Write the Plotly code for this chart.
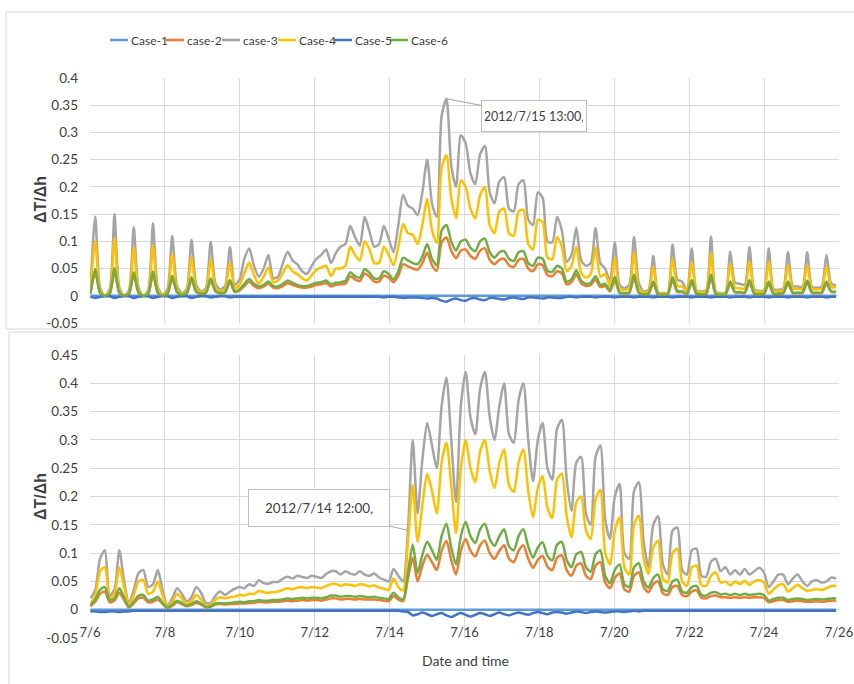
import numpy as np
import pandas as pd
import plotly.graph_objects as go

W, H = 854, 684
FONT = "Lato, Roboto, Liberation Sans, sans-serif"

# time axis: samples every 185 minutes from 7/6 00:15 (156 samples)
time = pd.date_range("2012-07-06 00:15", periods=156, freq="185min")

series_names = ["Case-1", "case-2", "case-3", "Case-4", "Case-5", "Case-6"]
series_colors = ["#5B9BD5", "#ED7D31", "#A5A5A5", "#FFC000", "#4472C4", "#70AD47"]

x_tick_dates = ["2012-07-06", "2012-07-08", "2012-07-10", "2012-07-12", "2012-07-14", "2012-07-16",
                "2012-07-18", "2012-07-20", "2012-07-22", "2012-07-24", "2012-07-26"]
x_tick_labels = ["7/6", "7/8", "7/10", "7/12", "7/14", "7/16", "7/18", "7/20", "7/22", "7/24", "7/26"]
top_y_ticks = [-0.05, 0, 0.05, 0.1, 0.15, 0.2, 0.25, 0.3, 0.35, 0.4]
top_y_labels = ["-0.05", "0", "0.05", "0.1", "0.15", "0.2", "0.25", "0.3", "0.35", "0.4"]
bot_y_ticks = [-0.05, 0, 0.05, 0.1, 0.15, 0.2, 0.25, 0.3, 0.35, 0.4, 0.45]
bot_y_labels = ["-0.05", "0", "0.05", "0.1", "0.15", "0.2", "0.25", "0.3", "0.35", "0.4", "0.45"]

# ---------------- upper chart ----------------
top_case1 = [
    0, 0, 0, 0, 0, 0, 0, 0, 0, 0, 0, 0,
    0, 0, 0, 0, 0, 0, 0, 0, 0, 0, 0, 0,
    0, 0, 0, 0, 0, 0, 0, 0, 0, 0, 0, 0,
    0, 0, 0, 0, 0, 0, 0, 0, 0, 0, 0, 0,
    0, 0, 0, 0, 0, 0, 0, 0, 0, 0, 0, 0,
    0, 0, 0, 0, 0, 0, 0, 0, 0, 0, 0, 0,
    0, 0, 0, 0, 0, 0, 0, 0, 0, 0, 0, 0,
    0, 0, 0, 0, 0, 0, 0, 0, 0, 0, 0, 0,
    0, 0, 0, 0, 0, 0, 0, 0, 0, 0, 0, 0,
    0, 0, 0, 0, 0, 0, 0, 0, 0, 0, 0, 0,
    0, 0, 0, 0, 0, 0, 0, 0, 0, 0, 0, 0,
    0, 0, 0, 0, 0, 0, 0, 0, 0, 0, 0, 0,
    0, 0, 0, 0, 0, 0, 0, 0, 0, 0, 0, 0,
]
top_case2 = [
    0.003, 0.043, 0.005, 0.0, 0.003, 0.045, 0.005, 0.0, 0.003, 0.038, 0.005, 0.0,
    0.003, 0.039, 0.005, 0.0, 0.003, 0.032, 0.006, 0.002, 0.004, 0.029, 0.007, 0.003,
    0.005, 0.027, 0.008, 0.004, 0.006, 0.025, 0.007, 0.01, 0.018, 0.026, 0.018, 0.014,
    0.017, 0.022, 0.015, 0.014, 0.018, 0.023, 0.02, 0.017, 0.015, 0.015, 0.017, 0.02,
    0.021, 0.023, 0.017, 0.02, 0.021, 0.022, 0.036, 0.03, 0.027, 0.041, 0.035, 0.026,
    0.026, 0.037, 0.033, 0.025, 0.037, 0.058, 0.054, 0.05, 0.048, 0.06, 0.079, 0.056,
    0.046, 0.098, 0.107, 0.083, 0.069, 0.083, 0.085, 0.073, 0.068, 0.083, 0.087, 0.066,
    0.058, 0.066, 0.068, 0.056, 0.053, 0.066, 0.068, 0.05, 0.045, 0.058, 0.056, 0.038,
    0.036, 0.045, 0.041, 0.021, 0.025, 0.039, 0.023, 0.018, 0.02, 0.03, 0.016, 0.018,
    0.008, 0.029, 0.005, 0.004, 0.005, 0.033, 0.005, 0.002, 0.003, 0.022, 0.002, 0.002,
    0.002, 0.029, 0.007, 0.007, 0.003, 0.024, 0.003, 0.002, 0.003, 0.033, 0.002, 0.002,
    0.002, 0.022, 0.006, 0.006, 0.005, 0.024, 0.003, 0.002, 0.003, 0.022, 0.003, 0.003,
    0.004, 0.022, 0.005, 0.005, 0.005, 0.024, 0.005, 0.005, 0.005, 0.022, 0.007, 0.007,
]
top_case3 = [
    0.012, 0.145, 0.015, 0.0, 0.012, 0.15, 0.015, 0.0, 0.01, 0.126, 0.015, 0.0,
    0.01, 0.133, 0.016, 0.002, 0.012, 0.11, 0.018, 0.005, 0.012, 0.103, 0.02, 0.008,
    0.014, 0.099, 0.022, 0.012, 0.018, 0.089, 0.02, 0.03, 0.068, 0.087, 0.055, 0.035,
    0.05, 0.075, 0.032, 0.035, 0.06, 0.081, 0.065, 0.058, 0.045, 0.04, 0.055, 0.068,
    0.075, 0.085, 0.06, 0.078, 0.09, 0.095, 0.128, 0.108, 0.092, 0.145, 0.118, 0.09,
    0.095, 0.128, 0.105, 0.08, 0.13, 0.185, 0.165, 0.16, 0.148, 0.19, 0.25, 0.17,
    0.145, 0.33, 0.362, 0.24, 0.2, 0.295, 0.28, 0.225, 0.205, 0.26, 0.275, 0.19,
    0.17, 0.21, 0.218, 0.16, 0.155, 0.205, 0.212, 0.14, 0.13, 0.19, 0.18, 0.1,
    0.098, 0.145, 0.12, 0.062, 0.075, 0.125, 0.065, 0.055, 0.06, 0.124, 0.06, 0.05,
    0.027, 0.098, 0.02, 0.014, 0.02, 0.108, 0.023, 0.008, 0.011, 0.073, 0.006, 0.005,
    0.006, 0.094, 0.03, 0.026, 0.01, 0.087, 0.01, 0.008, 0.01, 0.109, 0.008, 0.005,
    0.006, 0.081, 0.024, 0.022, 0.02, 0.089, 0.012, 0.009, 0.01, 0.087, 0.012, 0.011,
    0.013, 0.08, 0.018, 0.017, 0.016, 0.08, 0.016, 0.015, 0.017, 0.075, 0.022, 0.02,
]
top_case4 = [
    0.008, 0.101, 0.01, 0.0, 0.008, 0.106, 0.01, 0.0, 0.007, 0.089, 0.01, 0.0,
    0.007, 0.093, 0.011, 0.001, 0.008, 0.077, 0.012, 0.003, 0.008, 0.071, 0.014, 0.006,
    0.01, 0.067, 0.015, 0.008, 0.013, 0.061, 0.014, 0.02, 0.042, 0.061, 0.038, 0.022,
    0.035, 0.052, 0.025, 0.028, 0.042, 0.056, 0.045, 0.04, 0.032, 0.028, 0.038, 0.048,
    0.052, 0.055, 0.036, 0.05, 0.05, 0.055, 0.09, 0.075, 0.065, 0.1, 0.085, 0.06,
    0.06, 0.09, 0.075, 0.056, 0.09, 0.132, 0.115, 0.112, 0.095, 0.13, 0.178, 0.12,
    0.097, 0.235, 0.258, 0.18, 0.143, 0.212, 0.2, 0.16, 0.142, 0.185, 0.2, 0.13,
    0.115, 0.155, 0.16, 0.115, 0.11, 0.155, 0.158, 0.095, 0.085, 0.14, 0.135, 0.07,
    0.067, 0.108, 0.09, 0.045, 0.055, 0.09, 0.042, 0.033, 0.04, 0.09, 0.035, 0.04,
    0.017, 0.071, 0.012, 0.011, 0.013, 0.08, 0.013, 0.006, 0.008, 0.054, 0.005, 0.004,
    0.005, 0.068, 0.018, 0.017, 0.008, 0.062, 0.008, 0.006, 0.008, 0.078, 0.006, 0.004,
    0.005, 0.059, 0.015, 0.014, 0.013, 0.064, 0.009, 0.007, 0.008, 0.063, 0.009, 0.008,
    0.01, 0.057, 0.013, 0.013, 0.012, 0.057, 0.012, 0.012, 0.013, 0.054, 0.016, 0.016,
]
top_case5 = [
    -0.002, -0.004, -0.002, -0.001, -0.001, -0.004, -0.002, -0.001, -0.001, -0.004, -0.002, -0.001,
    -0.001, -0.004, -0.002, -0.001, -0.001, -0.004, -0.002, -0.001, -0.001, -0.004, -0.002, -0.001,
    -0.001, -0.003, -0.002, -0.001, -0.001, -0.003, -0.002, -0.002, -0.002, -0.002, -0.002, -0.002,
    -0.002, -0.002, -0.002, -0.002, -0.002, -0.002, -0.002, -0.002, -0.002, -0.002, -0.002, -0.002,
    -0.002, -0.002, -0.002, -0.002, -0.002, -0.002, -0.002, -0.002, -0.002, -0.002, -0.002, -0.002,
    -0.002, -0.003, -0.002, -0.002, -0.003, -0.004, -0.003, -0.003, -0.003, -0.004, -0.005, -0.004,
    -0.005, -0.009, -0.011, -0.007, -0.005, -0.008, -0.009, -0.005, -0.004, -0.007, -0.008, -0.004,
    -0.004, -0.006, -0.007, -0.004, -0.003, -0.005, -0.006, -0.003, -0.003, -0.004, -0.005, -0.003,
    -0.003, -0.004, -0.004, -0.002, -0.002, -0.003, -0.002, -0.002, -0.002, -0.003, -0.002, -0.002,
    -0.002, -0.003, -0.002, -0.002, -0.002, -0.003, -0.002, -0.002, -0.002, -0.003, -0.002, -0.002,
    -0.002, -0.003, -0.002, -0.002, -0.002, -0.003, -0.002, -0.002, -0.002, -0.003, -0.002, -0.002,
    -0.002, -0.003, -0.002, -0.002, -0.002, -0.003, -0.002, -0.002, -0.002, -0.003, -0.002, -0.002,
    -0.002, -0.003, -0.002, -0.002, -0.002, -0.003, -0.002, -0.002, -0.002, -0.003, -0.002, -0.002,
]
top_case6 = [
    0.004, 0.049, 0.006, 0.0, 0.004, 0.051, 0.006, 0.0, 0.004, 0.043, 0.006, 0.0,
    0.004, 0.045, 0.006, 0.0, 0.004, 0.037, 0.007, 0.002, 0.005, 0.034, 0.008, 0.004,
    0.006, 0.032, 0.009, 0.005, 0.007, 0.029, 0.008, 0.012, 0.022, 0.031, 0.022, 0.017,
    0.02, 0.026, 0.018, 0.017, 0.022, 0.028, 0.024, 0.02, 0.018, 0.018, 0.021, 0.024,
    0.025, 0.028, 0.021, 0.024, 0.025, 0.027, 0.043, 0.036, 0.033, 0.049, 0.042, 0.032,
    0.032, 0.045, 0.04, 0.03, 0.045, 0.07, 0.065, 0.06, 0.058, 0.072, 0.095, 0.068,
    0.056, 0.12, 0.13, 0.1, 0.083, 0.1, 0.103, 0.088, 0.082, 0.1, 0.105, 0.08,
    0.07, 0.08, 0.082, 0.068, 0.064, 0.08, 0.082, 0.06, 0.055, 0.07, 0.068, 0.046,
    0.044, 0.055, 0.05, 0.026, 0.03, 0.047, 0.028, 0.022, 0.024, 0.036, 0.02, 0.022,
    0.01, 0.035, 0.006, 0.005, 0.006, 0.039, 0.006, 0.003, 0.004, 0.026, 0.003, 0.002,
    0.003, 0.034, 0.009, 0.008, 0.004, 0.029, 0.004, 0.003, 0.004, 0.039, 0.003, 0.002,
    0.003, 0.026, 0.007, 0.007, 0.006, 0.029, 0.004, 0.003, 0.004, 0.026, 0.004, 0.004,
    0.005, 0.026, 0.006, 0.006, 0.006, 0.028, 0.006, 0.006, 0.006, 0.026, 0.008, 0.008,
]

# ---------------- lower chart ----------------
bot_case1 = [
    0, 0, 0, 0, 0, 0, 0, 0, 0, 0, 0, 0,
    0, 0, 0, 0, 0, 0, 0, 0, 0, 0, 0, 0,
    0, 0, 0, 0, 0, 0, 0, 0, 0, 0, 0, 0,
    0, 0, 0, 0, 0, 0, 0, 0, 0, 0, 0, 0,
    0, 0, 0, 0, 0, 0, 0, 0, 0, 0, 0, 0,
    0, 0, 0, 0, 0, 0, 0, 0, 0, 0, 0, 0,
    0, 0, 0, 0, 0, 0, 0, 0, 0, 0, 0, 0,
    0, 0, 0, 0, 0, 0, 0, 0, 0, 0, 0, 0,
    0, 0, 0, 0, 0, 0, 0, 0, 0, 0, 0, 0,
    0, 0, 0, 0, 0, 0, 0, 0, 0, 0, 0, 0,
    0, 0, 0, 0, 0, 0, 0, 0, 0, 0, 0, 0,
    0, 0, 0, 0, 0, 0, 0, 0, 0, 0, 0, 0,
    0, 0, 0, 0, 0, 0, 0, 0, 0, 0, 0, 0,
]
bot_case2 = [
    0.006, 0.014, 0.028, 0.032, 0.013, 0.016, 0.03, 0.017, 0.004, 0.011, 0.02, 0.021,
    0.013, 0.014, 0.018, 0.01, 0.003, 0.007, 0.013, 0.01, 0.006, 0.008, 0.012, 0.009,
    0.004, 0.005, 0.009, 0.01, 0.009, 0.01, 0.01, 0.011, 0.011, 0.012, 0.012, 0.014,
    0.013, 0.013, 0.014, 0.014, 0.015, 0.016, 0.015, 0.016, 0.017, 0.016, 0.017, 0.017,
    0.016, 0.018, 0.02, 0.02, 0.018, 0.019, 0.019, 0.018, 0.019, 0.018, 0.018, 0.018,
    0.017, 0.016, 0.015, 0.024, 0.018, 0.015, 0.055, 0.092, 0.05, 0.078, 0.097, 0.084,
    0.07, 0.104, 0.122, 0.088, 0.062, 0.104, 0.125, 0.104, 0.094, 0.114, 0.122, 0.1,
    0.09, 0.104, 0.114, 0.09, 0.084, 0.104, 0.114, 0.09, 0.074, 0.088, 0.095, 0.076,
    0.07, 0.092, 0.096, 0.07, 0.06, 0.078, 0.082, 0.06, 0.054, 0.078, 0.084, 0.048,
    0.038, 0.056, 0.064, 0.036, 0.032, 0.06, 0.066, 0.04, 0.031, 0.045, 0.05, 0.029,
    0.026, 0.04, 0.042, 0.026, 0.024, 0.032, 0.034, 0.021, 0.02, 0.024, 0.025, 0.022,
    0.022, 0.021, 0.022, 0.021, 0.022, 0.021, 0.022, 0.022, 0.021, 0.013, 0.015, 0.017,
    0.017, 0.014, 0.015, 0.016, 0.015, 0.014, 0.014, 0.015, 0.014, 0.015, 0.016, 0.016,
]
bot_case3 = [
    0.02, 0.035, 0.09, 0.105, 0.025, 0.036, 0.105, 0.05, 0.012, 0.035, 0.065, 0.07,
    0.04, 0.045, 0.07, 0.035, 0.008, 0.02, 0.038, 0.028, 0.015, 0.022, 0.04, 0.03,
    0.012, 0.012, 0.025, 0.032, 0.026, 0.032, 0.037, 0.04, 0.038, 0.045, 0.042, 0.052,
    0.047, 0.046, 0.049, 0.049, 0.055, 0.058, 0.055, 0.06, 0.058, 0.056, 0.06, 0.058,
    0.056, 0.063, 0.068, 0.068, 0.062, 0.068, 0.064, 0.062, 0.068, 0.062, 0.06, 0.064,
    0.057, 0.053, 0.05, 0.072, 0.06, 0.05, 0.14, 0.3, 0.17, 0.265, 0.33, 0.29,
    0.25, 0.36, 0.41, 0.3, 0.19, 0.36, 0.42, 0.34, 0.31, 0.39, 0.42, 0.34,
    0.3, 0.36, 0.4, 0.31, 0.295, 0.37, 0.4, 0.3, 0.227, 0.3, 0.33, 0.25,
    0.23, 0.32, 0.335, 0.23, 0.175, 0.26, 0.27, 0.17, 0.15, 0.27, 0.29, 0.16,
    0.125, 0.2, 0.222, 0.1, 0.09, 0.21, 0.225, 0.12, 0.075, 0.15, 0.165, 0.08,
    0.062, 0.14, 0.145, 0.07, 0.062, 0.105, 0.108, 0.06, 0.058, 0.085, 0.09, 0.068,
    0.075, 0.062, 0.07, 0.062, 0.072, 0.062, 0.068, 0.074, 0.066, 0.04, 0.05, 0.062,
    0.062, 0.045, 0.055, 0.062, 0.05, 0.042, 0.05, 0.052, 0.048, 0.05, 0.057, 0.055,
]
bot_case4 = [
    0.01, 0.025, 0.068, 0.075, 0.02, 0.028, 0.075, 0.04, 0.008, 0.025, 0.05, 0.052,
    0.028, 0.032, 0.05, 0.025, 0.005, 0.014, 0.028, 0.02, 0.01, 0.015, 0.026, 0.018,
    0.007, 0.009, 0.018, 0.022, 0.02, 0.022, 0.023, 0.026, 0.025, 0.028, 0.028, 0.033,
    0.031, 0.03, 0.031, 0.032, 0.035, 0.038, 0.036, 0.039, 0.04, 0.038, 0.04, 0.039,
    0.038, 0.042, 0.045, 0.046, 0.042, 0.045, 0.044, 0.042, 0.045, 0.044, 0.041, 0.043,
    0.039, 0.037, 0.035, 0.055, 0.04, 0.034, 0.12, 0.22, 0.12, 0.185, 0.24, 0.21,
    0.17, 0.26, 0.295, 0.22, 0.135, 0.25, 0.3, 0.25, 0.225, 0.28, 0.3, 0.245,
    0.215, 0.26, 0.283, 0.22, 0.208, 0.26, 0.283, 0.21, 0.163, 0.215, 0.236, 0.18,
    0.162, 0.23, 0.24, 0.165, 0.128, 0.19, 0.2, 0.14, 0.125, 0.195, 0.212, 0.1,
    0.08, 0.14, 0.163, 0.075, 0.062, 0.15, 0.166, 0.09, 0.063, 0.11, 0.122, 0.055,
    0.048, 0.1, 0.108, 0.05, 0.042, 0.075, 0.078, 0.043, 0.042, 0.06, 0.066, 0.048,
    0.05, 0.043, 0.05, 0.045, 0.051, 0.044, 0.05, 0.052, 0.048, 0.028, 0.036, 0.043,
    0.045, 0.032, 0.038, 0.044, 0.038, 0.033, 0.035, 0.036, 0.035, 0.038, 0.042, 0.042,
]
bot_case5 = [
    -0.003, -0.003, -0.004, -0.004, -0.003, -0.003, -0.004, -0.003, -0.003, -0.002, -0.002, -0.002,
    -0.002, -0.002, -0.002, -0.002, -0.002, -0.002, -0.002, -0.002, -0.002, -0.002, -0.002, -0.002,
    -0.002, -0.002, -0.002, -0.002, -0.002, -0.002, -0.002, -0.002, -0.002, -0.002, -0.002, -0.002,
    -0.002, -0.002, -0.002, -0.002, -0.002, -0.002, -0.002, -0.002, -0.002, -0.002, -0.002, -0.002,
    -0.002, -0.002, -0.002, -0.002, -0.002, -0.002, -0.002, -0.002, -0.002, -0.002, -0.002, -0.002,
    -0.002, -0.002, -0.002, -0.002, -0.002, -0.003, -0.004, -0.01, -0.008, -0.005, -0.008, -0.011,
    -0.008, -0.006, -0.01, -0.013, -0.009, -0.006, -0.009, -0.012, -0.009, -0.006, -0.008, -0.011,
    -0.008, -0.005, -0.008, -0.01, -0.007, -0.005, -0.007, -0.009, -0.006, -0.004, -0.006, -0.008,
    -0.005, -0.004, -0.005, -0.007, -0.005, -0.003, -0.004, -0.006, -0.004, -0.003, -0.004, -0.005,
    -0.004, -0.003, -0.003, -0.004, -0.003, -0.002, -0.003, -0.002, -0.002, -0.002, -0.002, -0.002,
    -0.002, -0.002, -0.002, -0.002, -0.002, -0.002, -0.002, -0.002, -0.002, -0.002, -0.002, -0.002,
    -0.002, -0.002, -0.002, -0.002, -0.002, -0.002, -0.002, -0.002, -0.002, -0.002, -0.002, -0.002,
    -0.002, -0.002, -0.002, -0.002, -0.002, -0.002, -0.002, -0.002, -0.002, -0.002, -0.002, -0.002,
]
bot_case6 = [
    0.008, 0.018, 0.035, 0.04, 0.017, 0.02, 0.038, 0.022, 0.005, 0.014, 0.025, 0.026,
    0.016, 0.018, 0.023, 0.012, 0.004, 0.009, 0.016, 0.012, 0.007, 0.01, 0.015, 0.011,
    0.005, 0.006, 0.011, 0.012, 0.011, 0.012, 0.013, 0.014, 0.013, 0.015, 0.015, 0.017,
    0.016, 0.016, 0.017, 0.017, 0.018, 0.02, 0.019, 0.02, 0.021, 0.02, 0.021, 0.021,
    0.02, 0.022, 0.025, 0.025, 0.023, 0.024, 0.024, 0.023, 0.024, 0.023, 0.022, 0.023,
    0.021, 0.02, 0.019, 0.03, 0.022, 0.018, 0.065, 0.115, 0.065, 0.097, 0.12, 0.105,
    0.088, 0.13, 0.152, 0.11, 0.08, 0.13, 0.155, 0.13, 0.118, 0.142, 0.152, 0.125,
    0.113, 0.13, 0.142, 0.112, 0.105, 0.13, 0.142, 0.112, 0.092, 0.11, 0.119, 0.095,
    0.087, 0.115, 0.12, 0.088, 0.075, 0.098, 0.102, 0.075, 0.067, 0.098, 0.105, 0.06,
    0.047, 0.07, 0.08, 0.045, 0.04, 0.075, 0.082, 0.05, 0.039, 0.056, 0.062, 0.036,
    0.033, 0.05, 0.053, 0.032, 0.03, 0.04, 0.042, 0.026, 0.025, 0.03, 0.031, 0.027,
    0.028, 0.026, 0.028, 0.026, 0.028, 0.026, 0.027, 0.028, 0.026, 0.016, 0.019, 0.021,
    0.021, 0.017, 0.019, 0.02, 0.019, 0.017, 0.018, 0.019, 0.018, 0.019, 0.02, 0.02,
]

top_series = [top_case1, top_case2, top_case3, top_case4, top_case5, top_case6]
bot_series = [bot_case1, bot_case2, bot_case3, bot_case4, bot_case5, bot_case6]
for s in top_series + bot_series:
    assert len(s) == len(time), len(s)

callout_top_text = "2012/7/15 13:00,"
callout_bot_text = "2012/7/14 12:00,"
callout_bot_time = pd.Timestamp("2012-07-14 12:00")


def px(x):
    return x / W


def py(y):
    return 1 - y / H


fig = go.Figure()
for name, color, vals in zip(series_names, series_colors, top_series):
    fig.add_trace(go.Scatter(x=time, y=vals, mode="lines", name=name, xaxis="x", yaxis="y",
                             line=dict(color=color, width=2.5, shape="spline", smoothing=0.7),
                             showlegend=False, hoverinfo="skip"))
for name, color, vals in zip(series_names, series_colors, bot_series):
    fig.add_trace(go.Scatter(x=time, y=vals, mode="lines", name=name, xaxis="x2", yaxis="y2",
                             line=dict(color=color, width=2.5, shape="spline", smoothing=0.7),
                             showlegend=False, hoverinfo="skip"))

GRID = "#D9D9D9"
TXT = "#404040"
xcommon = dict(type="date", range=["2012-07-05 23:58", "2012-07-26 00:02"], tickvals=x_tick_dates,
               ticktext=x_tick_labels, showgrid=True, gridcolor=GRID, gridwidth=1,
               zeroline=False, showline=False, ticks="", domain=[px(90), px(839)],
               automargin=False)
ycommon = dict(showgrid=True, gridcolor=GRID, zeroline=False, showline=False, ticks="",
               ticklabelstandoff=11, tickfont=dict(size=13.5, color=TXT, family=FONT),
               automargin=False)
fig.update_layout(
    width=W, height=H, autosize=False,
    margin=dict(l=0, r=0, t=0, b=0, pad=0, autoexpand=False),
    paper_bgcolor="white", plot_bgcolor="white",
    font=dict(family=FONT, size=14, color=TXT),
    showlegend=False,
    xaxis=dict(xcommon, anchor="y", showticklabels=False),
    yaxis=dict(ycommon, domain=[py(323), py(78)], anchor="x", range=[-0.05, 0.4],
               tickvals=top_y_ticks, ticktext=top_y_labels),
    xaxis2=dict(xcommon, anchor="free", position=py(609.7), showticklabels=True,
                ticklabelstandoff=13, ticklabeloverflow="allow",
                tickfont=dict(size=13, color=TXT, family=FONT)),
    yaxis2=dict(ycommon, domain=[py(638), py(355)], anchor="x2", range=[-0.05, 0.45],
                tickvals=bot_y_ticks, ticktext=bot_y_labels),
)

# chart frames
fig.add_shape(type="rect", xref="paper", yref="paper", x0=px(6), x1=px(870), y0=py(329), y1=py(12),
              line=dict(color=GRID, width=1), fillcolor="rgba(0,0,0,0)", layer="below")
fig.add_shape(type="rect", xref="paper", yref="paper", x0=px(9), x1=px(870), y0=py(700), y1=py(332),
              line=dict(color=GRID, width=1), fillcolor="rgba(0,0,0,0)", layer="below")

# legend (drawn manually, compact like the original)
leg_x0, leg_step, leg_y = 110, 56, 40
for i, (name, color) in enumerate(zip(series_names, series_colors)):
    x0 = leg_x0 + i * leg_step
    fig.add_shape(type="line", xref="paper", yref="paper", x0=px(x0), x1=px(x0 + 18),
                  y0=py(leg_y), y1=py(leg_y), line=dict(color=color, width=2.5))
    fig.add_annotation(xref="paper", yref="paper", x=px(x0 + 19), y=py(leg_y), text=name,
                       showarrow=False, xanchor="left", yanchor="middle",
                       font=dict(size=12, color=TXT, family=FONT))

# axis titles
for yc in (200, 497):
    fig.add_annotation(xref="paper", yref="paper", x=px(40), y=py(yc), text="<b>ΔT/Δh</b>",
                       textangle=-90, showarrow=False, xanchor="center", yanchor="middle",
                       font=dict(size=16, color=TXT, family="Liberation Sans, Arial, sans-serif"))
fig.add_annotation(xref="paper", yref="paper", x=px(465), y=py(660), text="Date and time",
                   showarrow=False, xanchor="center", yanchor="middle",
                   font=dict(size=14, color=TXT, family=FONT))

# data callouts
imax = int(np.argmax(top_case3))
fig.add_annotation(x=time[imax], y=top_case3[imax], xref="x", yref="y", text=callout_top_text,
                   showarrow=True, arrowhead=0, arrowwidth=1, arrowcolor="#A5A5A5",
                   ax=88, ay=17, bordercolor="#BFBFBF", borderwidth=1, borderpad=3,
                   bgcolor="white", width=98, height=24,
                   font=dict(size=12.5, color=TXT, family=FONT))
ib = int(np.argmin(np.abs((time - callout_bot_time).total_seconds())))
fig.add_annotation(x=time[ib], y=bot_case3[ib], xref="x2", yref="y2", text=callout_bot_text,
                   showarrow=True, arrowhead=0, arrowwidth=1, arrowcolor="#A5A5A5",
                   ax=-89, ay=-22, bordercolor="#BFBFBF", borderwidth=1, borderpad=3,
                   bgcolor="white", width=134, height=30,
                   font=dict(size=13.5, color=TXT, family=FONT))

fig.write_html("out.html", config={"displayModeBar": False},
               post_script="document.body.style.margin='0';")
